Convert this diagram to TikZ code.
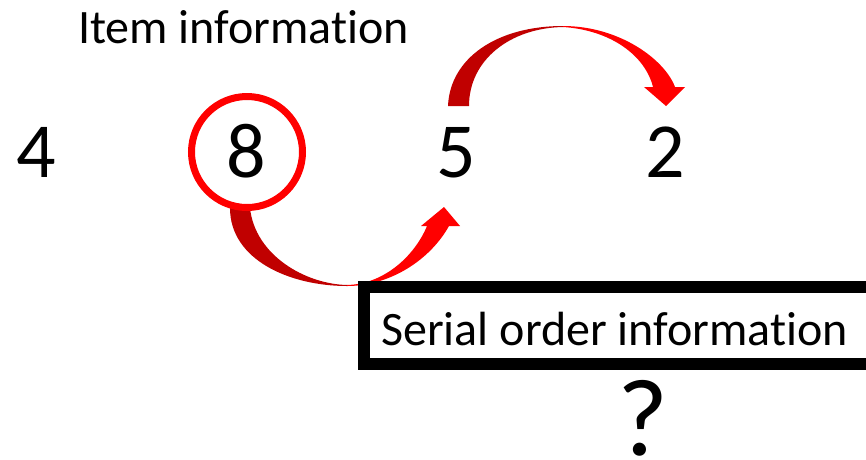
\documentclass[tikz,border=0pt]{standalone}
\usepackage{fontspec}
\setmainfont[Ligatures=NoCommon]{Carlito}
\definecolor{backred}{HTML}{C00000}
\definecolor{frontred}{HTML}{FF0000}
\tikzset{
  label text/.style={inner sep=0pt, font=\fontsize{48}{56}\selectfont},
  digit/.style={inner sep=0pt, anchor=base, font=\fontsize{78}{90}\selectfont},
  back band/.style={fill=backred, draw=none},
  front band/.style={fill=frontred, draw=none},
}
\begin{document}
\begin{tikzpicture}[x=1pt, y=-1pt]
\useasboundingbox (0,0) rectangle (866,459);
\clip (0,0) rectangle (866,459);

% heading
\node[label text, anchor=base west] (item) at (78,43) {Item information};

% the digit sequence
\node[digit] (d4) at (36,177) {4};
\node[digit] (d8) at (246,177) {8};
\node[digit] (d5) at (456,177) {5};
\node[digit] (d2) at (665.5,177) {2};

% curved arrow from 5 over to 2
\fill[back band] (448,106) .. controls (450,58) and (497,26) .. (563,26)
  -- (563,27) .. controls (510,28) and (469,60) .. (469,106) -- cycle;
\fill[front band] (563,26) .. controls (620,26) and (665,60) .. (675,87)
  -- (685,87) -- (666,106) -- (644,87) -- (653,87)
  .. controls (645,55) and (610,30) .. (563,27) -- cycle;

% curved arrow from 8 down and up to 5
\fill[back band] (230,208) .. controls (230,260) and (290,286) .. (347,286)
  -- (347,285) .. controls (305,284) and (255,255) .. (250,208) -- cycle;
\fill[front band] (347,286) .. controls (390,286) and (430,260) .. (449,226)
  -- (460,226) -- (444,207) -- (421,226) -- (427,226)
  .. controls (415,255) and (385,284) .. (347,285) -- cycle;

% ring round the 8
\draw[frontred, line width=7pt] (247,152) circle[radius=55.5];

% serial order box, running off the right edge
\draw[line width=12pt] (900,287) -- (363.5,287) -- (363.5,364) -- (900,364);
\node[label text, anchor=base west] (serial) at (381,345) {Serial order information};

% question mark
\node[inner sep=0pt, anchor=base, font=\fontsize{110}{120}\selectfont] (query) at (643,455) {?};
\end{tikzpicture}
\end{document}
